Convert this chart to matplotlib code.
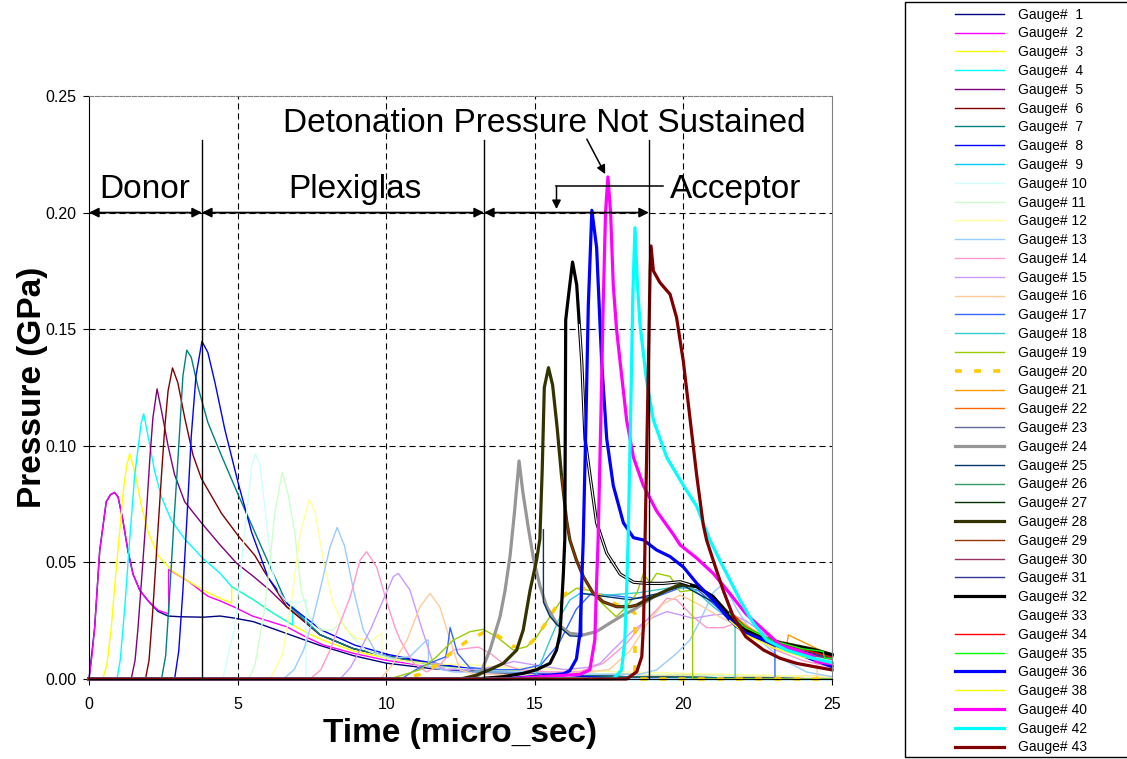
import matplotlib
matplotlib.use('Agg')
import matplotlib.pyplot as plt
from matplotlib.patches import Rectangle

plt.rcParams['font.family'] = ['Liberation Sans', 'DejaVu Sans']

# gauge records: (time in micro_sec, pressure in GPa)
g01 = [(0, 0), (0.19, 0.022), (0.36, 0.055), (0.58, 0.076), (0.72, 0.079), (0.86, 0.080), (0.98, 0.078),
       (1.14, 0.068), (1.31, 0.055), (1.48, 0.045), (1.71, 0.038), (1.99, 0.0335), (2.32, 0.029),
       (2.66, 0.027), (3.06, 0.0267), (3.85, 0.0265), (4.41, 0.027), (4.85, 0.0262), (5.53, 0.0246),
       (6.65, 0.0195), (7.77, 0.0144), (8.9, 0.010), (10.0, 0.0068), (11.5, 0.0045), (13.0, 0.003),
       (15.0, 0.002), (18.0, 0.001), (25.0, 0.0)]
g02 = [(0, 0), (0.1, 0.01), (0.19, 0.022), (0.36, 0.055), (0.58, 0.076), (0.72, 0.079), (0.86, 0.080),
       (0.98, 0.078), (1.14, 0.068), (1.31, 0.055), (1.48, 0.045), (1.71, 0.038), (1.99, 0.0335),
       (2.32, 0.0295), (2.66, 0.028), (2.68, 0.028), (2.68, 0.047), (3.33, 0.042), (4.0, 0.0355),
       (4.41, 0.0335), (4.86, 0.031), (5.5, 0.027), (6.65, 0.0224), (7.3, 0.018), (7.88, 0.0146),
       (8.9, 0.011), (10.0, 0.008), (11.0, 0.0062), (12.0, 0.005), (13.0, 0.004), (15.0, 0.003),
       (18.0, 0.002), (25.0, 0.001)]
g03 = [(0, 0), (0.46, 0), (0.6, 0.006), (0.75, 0.022), (0.9, 0.045), (1.03, 0.063), (1.15, 0.08),
       (1.26, 0.091), (1.37, 0.0966), (1.54, 0.089), (1.76, 0.0745), (1.99, 0.063), (2.32, 0.053),
       (2.77, 0.0466), (3.33, 0.042), (4.0, 0.037), (4.41, 0.0346), (4.8, 0.0325), (4.8, 0.0396),
       (5.53, 0.034), (6.2, 0.0282), (6.85, 0.0232), (7.3, 0.020), (7.9, 0.0165), (8.9, 0.012),
       (10.0, 0.009), (11.0, 0.007), (12.0, 0.0055), (13.0, 0.0045), (15.0, 0.003), (18.0, 0.002),
       (25.0, 0.001)]
g04 = [(0, 0), (0.94, 0), (1.05, 0.008), (1.2, 0.030), (1.37, 0.06), (1.54, 0.0876), (1.76, 0.110),
       (1.84, 0.1137), (1.99, 0.104), (2.21, 0.089), (2.44, 0.078), (2.77, 0.068), (3.22, 0.060),
       (3.84, 0.0516), (4.41, 0.0453), (4.8, 0.0396), (5.53, 0.034), (6.2, 0.0282), (6.85, 0.0232),
       (6.85, 0.031), (7.77, 0.019), (8.9, 0.013), (10.0, 0.0099), (11.14, 0.0072), (12.26, 0.005),
       (13.1, 0.0036), (15.0, 0.002), (18.0, 0.001), (25.0, 0.0)]
g05 = [(0, 0), (1.42, 0), (1.55, 0.008), (1.65, 0.022), (1.8, 0.048), (1.93, 0.071), (2.05, 0.095),
       (2.15, 0.112), (2.29, 0.1244), (2.44, 0.115), (2.66, 0.1), (2.88, 0.0876), (3.22, 0.076),
       (3.78, 0.067), (4.41, 0.0575), (4.97, 0.0496), (5.53, 0.044), (6.09, 0.038), (6.65, 0.031),
       (7.77, 0.019), (8.9, 0.013), (10.0, 0.0099), (11.14, 0.0072), (12.26, 0.005), (13.1, 0.0036),
       (15.0, 0.002), (18.0, 0.001), (25.0, 0.0)]
g06 = [(0, 0), (1.9, 0), (2.02, 0.008), (2.15, 0.030), (2.3, 0.06), (2.44, 0.0876), (2.55, 0.108),
       (2.66, 0.1235), (2.81, 0.1334), (2.99, 0.127), (3.22, 0.112), (3.5, 0.096), (3.78, 0.086),
       (4.46, 0.071), (5.02, 0.0614), (5.58, 0.053), (5.87, 0.0467), (6.65, 0.031), (7.77, 0.019),
       (8.9, 0.013), (10.0, 0.0099), (11.14, 0.0072), (12.26, 0.005), (13.1, 0.0036), (15.0, 0.002),
       (18.0, 0.001), (25.0, 0.0)]
g07 = [(0, 0), (2.44, 0), (2.58, 0.01), (2.72, 0.038), (2.86, 0.068), (3.0, 0.0957), (3.16, 0.130),
       (3.29, 0.141), (3.44, 0.138), (3.67, 0.125), (4.0, 0.110), (4.46, 0.0957), (5.02, 0.079),
       (5.58, 0.063), (6.03, 0.050), (6.65, 0.0325), (7.77, 0.019), (8.9, 0.013), (10.0, 0.0099),
       (11.14, 0.0072), (12.26, 0.005), (13.1, 0.0036), (15.0, 0.002), (18.0, 0.001), (25.0, 0.0)]
g08 = [(0, 0), (2.88, 0), (3.02, 0.012), (3.16, 0.038), (3.3, 0.07), (3.44, 0.104), (3.6, 0.13),
       (3.8, 0.1448), (4.0, 0.140), (4.24, 0.127), (4.57, 0.107), (5.02, 0.084), (5.47, 0.063),
       (6.03, 0.0434), (6.7, 0.032), (7.82, 0.021), (8.95, 0.0145), (10.07, 0.0105), (11.14, 0.0078),
       (12.26, 0.0055), (13.1, 0.004), (15.0, 0.0025), (18.0, 0.0), (25.0, 0.0)]
g09 = [(0, 0), (25.0, 0)]
g10 = [(0, 0), (4.5, 0), (4.9, 0.022), (5.24, 0.063), (5.47, 0.091), (5.6, 0.0966), (5.75, 0.092),
       (5.94, 0.071), (6.16, 0.0466), (6.4, 0.037), (6.65, 0.0332), (6.99, 0.0325), (7.27, 0.034),
       (7.3, 0.034), (7.3, 0), (25.0, 0)]
g11 = [(0, 0), (5.37, 0), (5.58, 0.0057), (5.91, 0.030), (6.1, 0.052), (6.25, 0.071), (6.5, 0.0887),
       (6.7, 0.079), (6.92, 0.063), (7.14, 0.038), (7.4, 0.027), (7.8, 0.021), (8.2, 0.021),
       (8.5, 0.0246), (8.8, 0.019), (9.3, 0.0125), (10.0, 0.009), (11.0, 0.0065), (12.0, 0.005),
       (13.0, 0.004), (15.0, 0.003), (18.0, 0.002), (25.0, 0.001)]
g12 = [(0, 0), (6.09, 0), (6.5, 0.01), (6.8, 0.032), (7.1, 0.062), (7.41, 0.0769), (7.6, 0.072),
       (7.9, 0.05), (8.2, 0.033), (8.6, 0.022), (9.0, 0.0175), (9.5, 0.0165), (9.85, 0.0196),
       (9.85, 0.0099), (10.5, 0.008), (11.5, 0.0065), (13.0, 0.006), (14.0, 0.005), (16.0, 0.004),
       (18.0, 0.003), (25.0, 0.001)]
g13 = [(0, 0), (6.54, 0), (6.9, 0.004), (7.22, 0.0124), (7.5, 0.024), (7.77, 0.038), (8.11, 0.0567),
       (8.35, 0.065), (8.6, 0.057), (8.9, 0.038), (9.23, 0.021), (9.68, 0.011), (10.24, 0.0089),
       (10.8, 0.0096), (11.36, 0.0167), (11.42, 0.0167), (11.42, 0.0053), (12.26, 0.003),
       (15.0, 0.003), (17.0, 0.002), (18.5, 0.002), (19.1, 0.0039), (19.77, 0.011), (20.22, 0.0167),
       (20.56, 0.025), (21.0, 0.037), (21.34, 0.041), (21.8, 0.03), (22.35, 0.019), (23.25, 0.009),
       (24.14, 0.003), (25.0, 0.001)]
g14 = [(0, 0), (7.44, 0), (7.8, 0.004), (8.11, 0.0124), (8.45, 0.024), (8.79, 0.0353), (9.12, 0.051),
       (9.34, 0.0546), (9.68, 0.048), (10.01, 0.0334), (10.3, 0.022), (10.47, 0.0167), (10.92, 0.0067),
       (11.36, 0.003), (11.8, 0.006), (12.26, 0.0124), (13.1, 0.0137), (13.5, 0.011), (14.0, 0.006),
       (14.5, 0.004), (15.5, 0.003), (16.5, 0.0031), (17.3, 0.0067), (18.09, 0.0153), (18.66, 0.024),
       (19.1, 0.0296), (19.44, 0.0346), (19.77, 0.034), (20.33, 0.0267), (20.78, 0.022),
       (21.34, 0.022), (21.74, 0.0239), (22.3, 0.02), (23.0, 0.013), (24.0, 0.008), (25.0, 0.005)]
g15 = [(0, 0), (8.45, 0), (8.8, 0.005), (9.12, 0.0124), (9.5, 0.022), (9.8, 0.031), (10.24, 0.0439),
       (10.41, 0.0453), (10.8, 0.0381), (11.14, 0.024), (11.58, 0.0067), (12.0, 0.004), (12.8, 0.004),
       (13.5, 0.005), (14.3, 0.0075), (15.0, 0.006), (16.0, 0.004), (16.8, 0.005), (17.2, 0.0067),
       (17.63, 0.0124), (18.2, 0.0196), (18.77, 0.0253), (19.44, 0.0289), (19.89, 0.0275),
       (20.33, 0.026), (21.0, 0.0275), (21.56, 0.028), (22.1, 0.025), (22.7, 0.0195), (23.25, 0.0153),
       (24.14, 0.011), (25.0, 0.0081)]
g16 = [(0, 0), (9.8, 0), (10.2, 0.006), (10.7, 0.0167), (11.14, 0.031), (11.47, 0.0367), (11.8, 0.031),
       (12.15, 0.0167), (12.48, 0.0039), (13.0, 0.002), (16.0, 0.002), (17.5, 0.004), (18.2, 0.012),
       (18.8, 0.024), (19.3, 0.032), (19.89, 0.036), (20.56, 0.0317), (21.22, 0.0267), (22.1, 0.021),
       (22.8, 0.0167), (23.81, 0.0124), (24.5, 0.0096), (24.5, 0.0), (25.0, 0.0)]
g17 = [(0, 0), (10.5, 0), (11.0, 0.004), (11.5, 0.007), (12.0, 0.0095), (12.07, 0.014), (12.15, 0.0221),
       (12.4, 0.011), (12.8, 0.005), (13.5, 0.004), (14.5, 0.004), (15.2, 0.006), (15.8, 0.015),
       (16.4, 0.030), (16.9, 0.0367), (17.5, 0.036), (18.43, 0.0346), (19.1, 0.0353), (20.0, 0.0396),
       (20.5, 0.038), (21.2, 0.030), (22.0, 0.021), (23.08, 0.0138), (23.08, 0.0), (25.0, 0.0)]
g18 = [(0, 0), (14.8, 0), (15.06, 0.0024), (15.51, 0.0167), (15.85, 0.0267), (16.18, 0.0339),
       (16.52, 0.0367), (17.5, 0.036), (18.5, 0.037), (19.5, 0.039), (20.3, 0.039), (21.0, 0.031),
       (21.74, 0.0239), (21.74, 0.0), (25.0, 0.0)]
g19 = [(0, 0), (10.0, 0), (10.24, 0.0005), (11.14, 0.004), (11.7, 0.0096), (12.26, 0.0167),
       (12.82, 0.0203), (13.27, 0.0213), (13.72, 0.018), (14.28, 0.0124), (14.73, 0.0139),
       (15.06, 0.018), (15.51, 0.0267), (15.96, 0.035), (16.4, 0.0389), (16.85, 0.038), (17.3, 0.032),
       (17.74, 0.0267), (18.09, 0.031), (18.43, 0.0367), (18.66, 0.0453), (18.88, 0.041),
       (19.1, 0.0453), (19.55, 0.044), (19.89, 0.0374), (20.22, 0.038), (20.31, 0.038), (20.31, 0.0),
       (25.0, 0.0)]
g20 = [(0, 0), (10.5, 0), (11.14, 0.002), (11.7, 0.006), (12.26, 0.012), (12.8, 0.017), (13.3, 0.020),
       (13.7, 0.019), (14.28, 0.014), (14.7, 0.0135), (15.06, 0.018), (15.51, 0.0267), (15.96, 0.036),
       (16.4, 0.039), (16.85, 0.0385), (17.4, 0.034), (17.9, 0.031), (18.2, 0.030), (18.37, 0.028),
       (18.37, 0.0), (25.0, 0.0)]
g21 = [(21.56, 0.029), (22.1, 0.023), (22.8, 0.0175), (23.47, 0.0139), (23.53, 0.0189),
       (24.59, 0.0124), (24.7, 0.0096), (25.0, 0.009)]
g22 = [(21.56, 0.028), (22.1, 0.0225), (22.8, 0.0175), (23.8, 0.0135), (25.0, 0.0105)]
g23 = [(21.56, 0.027), (22.1, 0.021), (23.0, 0.015), (24.0, 0.0115), (25.0, 0.009)]
g24 = [(0, 0), (12.9, 0), (13.16, 0.002), (13.49, 0.0124), (13.83, 0.0267), (14.0, 0.038),
       (14.17, 0.053), (14.32, 0.072), (14.47, 0.0935), (14.6, 0.080), (14.78, 0.065), (14.95, 0.052),
       (15.17, 0.040), (15.4, 0.031), (15.73, 0.0239), (16.18, 0.0196), (16.63, 0.0189), (17.07, 0.0203),
       (17.52, 0.0239), (17.97, 0.0274), (18.31, 0.0296), (18.66, 0.0324), (19.1, 0.0359),
       (19.55, 0.0389), (20.0, 0.041), (20.5, 0.0395), (21.0, 0.034), (21.56, 0.027), (22.1, 0.021),
       (22.7, 0.017), (23.25, 0.0148), (24.4, 0.0118), (25.0, 0.01)]
g25 = [(15.29, 0.064), (15.29, 0.033), (15.5, 0.027), (15.73, 0.0235), (16.18, 0.0185),
       (16.58, 0.0182), (16.58, 0.0367), (17.3, 0.0355), (18.2, 0.034), (19.1, 0.0365), (20.0, 0.04),
       (21.0, 0.033), (21.56, 0.027), (22.1, 0.0205), (23.0, 0.0155), (24.0, 0.012), (25.0, 0.0095)]
g26 = [(21.56, 0.028), (22.1, 0.022), (23.0, 0.016), (24.0, 0.0125), (25.0, 0.01)]
g27 = [(21.56, 0.028), (22.1, 0.0215), (23.0, 0.0165), (24.0, 0.013), (25.0, 0.0105)]
g28 = [(0, 0), (12.5, 0), (13.0, 0.0015), (13.49, 0.004), (13.94, 0.0067), (14.39, 0.0124),
       (14.61, 0.021), (14.84, 0.038), (15.06, 0.051), (15.17, 0.06), (15.25, 0.09), (15.32, 0.125),
       (15.46, 0.1335), (15.6, 0.126), (15.75, 0.108), (15.9, 0.087), (16.07, 0.068), (16.18, 0.0596),
       (16.4, 0.051), (16.63, 0.044), (16.97, 0.0367), (17.3, 0.0331), (17.75, 0.031), (18.2, 0.031),
       (18.43, 0.0317), (18.77, 0.034), (19.44, 0.038), (19.9, 0.0405), (20.45, 0.0396),
       (21.0, 0.0353), (21.56, 0.0275), (22.1, 0.0215), (22.7, 0.0178), (23.25, 0.0157),
       (24.4, 0.0127), (25.0, 0.0105)]
g29 = [(15.9, 0.087), (16.07, 0.068), (16.18, 0.0596), (16.4, 0.051), (16.63, 0.044), (16.97, 0.0367),
       (17.3, 0.0331), (17.75, 0.031), (18.2, 0.031), (18.43, 0.0317)]
g30 = [(21.56, 0.026), (22.1, 0.02), (23.0, 0.0145), (24.0, 0.011), (25.0, 0.0085)]
g31 = [(21.56, 0.027), (22.1, 0.0205), (23.0, 0.015), (24.0, 0.0115), (25.0, 0.009)]
g32 = [(0, 0), (13.0, 0), (13.94, 0.001), (14.6, 0.0024), (15.06, 0.004), (15.51, 0.0067),
       (15.73, 0.0124), (15.85, 0.0196), (15.9, 0.031), (15.96, 0.045), (16.01, 0.06), (16.04, 0.154),
       (16.14, 0.165), (16.27, 0.1788), (16.41, 0.169), (16.58, 0.136), (16.69, 0.103), (16.86, 0.087),
       (17.08, 0.067), (17.42, 0.054), (17.87, 0.045), (18.32, 0.0415), (18.77, 0.041), (19.33, 0.041),
       (19.89, 0.0417), (20.45, 0.0396), (21.0, 0.0353), (21.56, 0.0267), (21.75, 0.023),
       (21.8, 0.0225), (22.1, 0.021), (22.7, 0.0174), (23.25, 0.0153), (24.4, 0.0124), (25.0, 0.0103)]
g33 = [(16.5, 0.152), (16.58, 0.136), (16.69, 0.103), (16.86, 0.087), (17.08, 0.067), (17.42, 0.054),
       (17.87, 0.045), (18.32, 0.0415), (18.77, 0.041), (19.33, 0.041), (19.89, 0.0417), (20.2, 0.0405)]
g34 = [(21.56, 0.029), (22.1, 0.022), (23.0, 0.0165), (24.0, 0.0128), (25.0, 0.0093)]
g35 = [(21.56, 0.028), (22.1, 0.022), (23.0, 0.0165), (24.0, 0.013), (24.7, 0.0118), (24.75, 0.009),
       (25.0, 0.0088)]
g36 = [(0, 0), (14.0, 0), (15.96, 0.0022), (16.18, 0.0036), (16.4, 0.0086), (16.52, 0.0196),
       (16.57, 0.038), (16.63, 0.0596), (16.72, 0.11), (16.8, 0.16), (16.92, 0.201), (17.08, 0.185),
       (17.25, 0.136), (17.42, 0.103), (17.64, 0.083), (17.98, 0.067), (18.32, 0.0606),
       (18.66, 0.0596), (19.1, 0.0553), (19.55, 0.0525), (20.0, 0.048), (20.45, 0.041), (21.0, 0.0339),
       (21.56, 0.0253), (22.1, 0.0196), (22.7, 0.0167), (23.25, 0.0138), (23.81, 0.011), (24.4, 0.0081),
       (25.0, 0.0053)]
g38 = [(21.56, 0.025), (22.1, 0.019), (23.0, 0.0135), (24.0, 0.0095), (25.0, 0.007)]
g40 = [(0, 0), (14.0, 0), (16.52, 0.002), (16.85, 0.0039), (17.02, 0.0167), (17.07, 0.038),
       (17.13, 0.0596), (17.22, 0.11), (17.3, 0.16), (17.38, 0.2), (17.46, 0.2153), (17.55, 0.2),
       (17.64, 0.169), (17.75, 0.15), (17.87, 0.136), (18.09, 0.111), (18.32, 0.095), (18.65, 0.083),
       (19.1, 0.072), (19.66, 0.062), (19.89, 0.0575), (20.45, 0.0518), (21.0, 0.0453), (21.56, 0.0367),
       (22.1, 0.028), (22.7, 0.021), (23.25, 0.0146), (23.81, 0.0124), (24.4, 0.0096), (24.45, 0.0075),
       (25.0, 0.0065)]
g42 = [(0, 0), (14.0, 0), (17.64, 0.0), (17.92, 0.0039), (18.03, 0.0167), (18.09, 0.038),
       (18.14, 0.0596), (18.22, 0.11), (18.3, 0.165), (18.37, 0.1935), (18.45, 0.17), (18.54, 0.152),
       (18.76, 0.128), (18.99, 0.111), (19.44, 0.095), (20.0, 0.083), (20.45, 0.074), (20.89, 0.0596),
       (21.22, 0.051), (21.56, 0.0425), (21.9, 0.034), (22.35, 0.024), (22.8, 0.0167), (23.47, 0.0124),
       (24.37, 0.0089), (25.0, 0.007)]
g43 = [(0, 0), (18.09, 0), (18.43, 0.0031), (18.6, 0.0096), (18.66, 0.024), (18.71, 0.0596),
       (18.8, 0.12), (18.88, 0.175), (18.91, 0.1857), (18.99, 0.175), (19.21, 0.17), (19.55, 0.165),
       (19.77, 0.155), (20.0, 0.136), (20.22, 0.112), (20.45, 0.087), (20.67, 0.066), (20.78, 0.0596),
       (21.0, 0.051), (21.34, 0.038), (21.68, 0.0267), (22.1, 0.0181), (22.7, 0.0124), (23.25, 0.0089),
       (23.81, 0.0067), (24.4, 0.0053), (25.0, 0.0039)]

gauge_ids = [1, 2, 3, 4, 5, 6, 7, 8, 9, 10, 11, 12, 13, 14, 15, 16, 17, 18, 19, 20, 21, 22, 23, 24,
             25, 26, 27, 28, 29, 30, 31, 32, 33, 34, 35, 36, 38, 40, 42, 43]
gauge_data = [g01, g02, g03, g04, g05, g06, g07, g08, g09, g10, g11, g12, g13, g14, g15, g16, g17, g18,
              g19, g20, g21, g22, g23, g24, g25, g26, g27, g28, g29, g30, g31, g32, g33, g34, g35, g36,
              g38, g40, g42, g43]
gauge_colors = ['#000080', '#FF00FF', '#FFFF00', '#00FFFF', '#800080', '#800000', '#008080', '#0000FF',
                '#00CCFF', '#CCFFFF', '#CCFFCC', '#FFFF99', '#99CCFF', '#FF99CC', '#CC99FF', '#FFCC99',
                '#3366FF', '#33CCCC', '#99CC00', '#FFCC00', '#FF9900', '#FF6600', '#666699', '#969696',
                '#003366', '#339966', '#003300', '#333300', '#993300', '#993366', '#333399', '#000000',
                '#FFFFFF', '#FF0000', '#00FF00', '#0000FF', '#FFFF00', '#FF00FF', '#00FFFF', '#800000']
thick = {20, 24, 28, 32, 36, 40, 42, 43}

fig = plt.figure(figsize=(11.27, 7.59), dpi=100)
ax = fig.add_axes([89 / 1127, 80 / 759, 743 / 1127, 583 / 759])

# dashed grid
for yv in [0.05, 0.10, 0.15, 0.20]:
    ax.axhline(yv, color='black', lw=0.8, dashes=(5.5, 3.5), zorder=1)
for xv in [5, 10, 15, 20]:
    ax.axvline(xv, color='black', lw=0.8, dashes=(5.5, 3.5), zorder=1)

handles = []
for gid, data, col in zip(gauge_ids, gauge_data, gauge_colors):
    t = [d[0] for d in data]
    p = [d[1] for d in data]
    if gid == 20:
        ln, = ax.plot(t, p, color=col, lw=2.6, dashes=(1.9, 3.4), clip_on=False, zorder=2)
    elif gid in thick:
        ln, = ax.plot(t, p, color=col, lw=2.3, clip_on=False, zorder=2)
    elif gid == 33:
        ln, = ax.plot(t, p, color=col, lw=0.8, clip_on=False, zorder=2)
    else:
        ln, = ax.plot(t, p, color=col, lw=1.0, clip_on=False, zorder=2)
    handles.append(ln)

ax.set_xlim(0, 25)
ax.set_ylim(0, 0.25)
ax.set_xticks([0, 5, 10, 15, 20, 25])
ax.set_yticks([0.0, 0.05, 0.10, 0.15, 0.20, 0.25])
ax.set_yticklabels(['0.00', '0.05', '0.10', '0.15', '0.20', '0.25'])
ax.tick_params(axis='both', direction='out', length=4.3, width=0.8, labelsize=11.5)
ax.tick_params(axis='y', pad=5)
ax.tick_params(axis='x', pad=9)
ax.spines['top'].set_color('#808080')
ax.spines['top'].set_linestyle((0, (4, 1.5)))
ax.spines['right'].set_color('#808080')
ax.set_xlabel('Time (micro_sec)', fontsize=24, fontweight='bold', labelpad=4)
ax.set_ylabel('Pressure (GPa)', fontsize=24, fontweight='bold', labelpad=-2)

# region markers
for xv in [3.8, 13.29, 18.84]:
    ax.plot([xv, xv], [0, 0.231], color='black', lw=1.0, zorder=5)
arrow = dict(arrowstyle='<|-|>', color='black', lw=1.3, mutation_scale=14, shrinkA=0, shrinkB=0)
for x0, x1 in [(0, 3.8), (3.8, 13.29), (13.29, 18.84)]:
    ax.annotate('', xy=(x1, 0.20), xytext=(x0, 0.20), arrowprops=arrow, zorder=6)

ax.text(1.88, 0.2064, 'Donor', fontsize=24, ha='center', va='baseline', zorder=6)
ax.text(8.95, 0.2064, 'Plexiglas', fontsize=24, ha='center', va='baseline', zorder=6)
ax.text(21.77, 0.2064, 'Acceptor', fontsize=24, ha='center', va='baseline', zorder=6)
ax.text(15.31, 0.2345, 'Detonation Pressure Not Sustained', fontsize=24, ha='center', va='baseline',
        zorder=6)

one_way = dict(arrowstyle='-|>', color='black', lw=1.1, mutation_scale=13, shrinkA=0, shrinkB=0)
ax.annotate('', xy=(17.37, 0.2165), xytext=(16.75, 0.2315), arrowprops=one_way, zorder=6)
ax.plot([19.32, 15.73], [0.2114, 0.2114], color='black', lw=1.1, zorder=6)
ax.annotate('', xy=(15.73, 0.2015), xytext=(15.73, 0.2114), arrowprops=one_way, zorder=6)

# legend box
fig.patches.append(Rectangle((905 / 1127, 2 / 759), 240 / 1127, 755 / 759, transform=fig.transFigure,
                             facecolor='white', edgecolor='black', lw=1.0, zorder=0))
labels = ['Gauge#  %d' % g if g < 10 else 'Gauge# %d' % g for g in gauge_ids]
fig.legend(handles, labels, loc='upper left', bbox_to_anchor=(955 / 1127, 1 - 7.6 / 759), frameon=False,
           fontsize=10, handlelength=3.53, handletextpad=1.0, labelspacing=0.345, borderpad=0,
           borderaxespad=0)

fig.savefig('out.png', dpi=100)
